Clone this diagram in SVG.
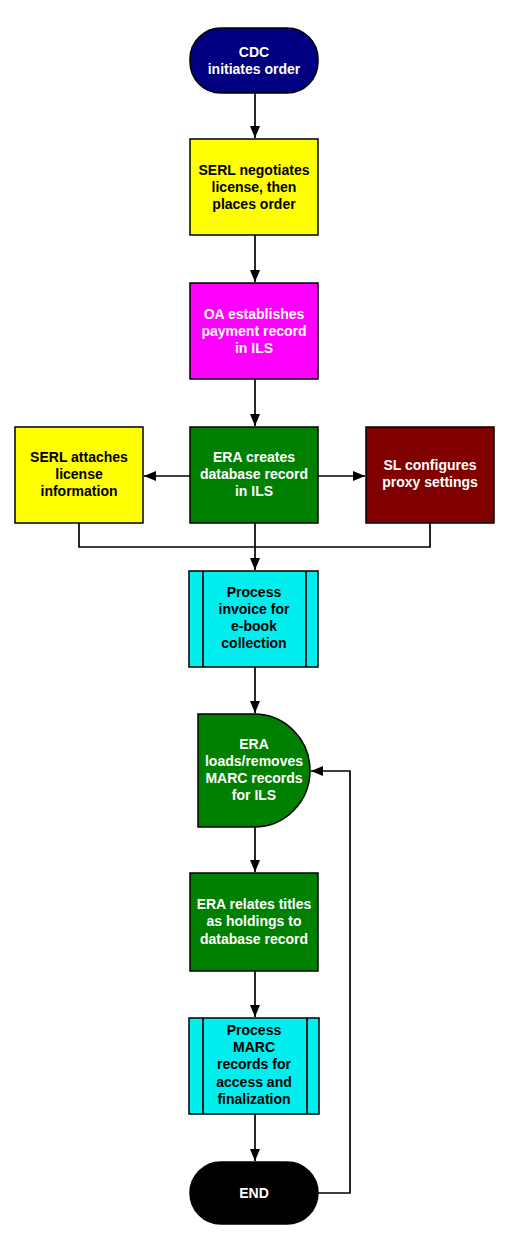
<svg xmlns="http://www.w3.org/2000/svg" width="509" height="1250" viewBox="0 0 509 1250">
<style>
.n{stroke:#000;stroke-width:1.5}
.t{font-family:"Liberation Sans",Arial,sans-serif;font-weight:bold;font-size:14px;text-anchor:middle}
.w{fill:#fff}
.k{fill:#000}
.c{fill:none;stroke:#000;stroke-width:1.7}
</style>
<defs>
<marker id="a" viewBox="0 0 12 10" refX="12" refY="5" markerWidth="12" markerHeight="10" markerUnits="userSpaceOnUse" orient="auto">
<path d="M0,0L12,5L0,10z" fill="#000"/>
</marker>
</defs>
<rect width="509" height="1250" fill="#fff"/>
<g id="connectors">
<path class="c" d="M255,93V138" marker-end="url(#a)"/>
<path class="c" d="M255,235V282" marker-end="url(#a)"/>
<path class="c" d="M255,379V426" marker-end="url(#a)"/>
<path class="c" d="M190,476H144" marker-end="url(#a)"/>
<path class="c" d="M318,476H365" marker-end="url(#a)"/>
<path class="c" d="M79,523V547H430V523"/>
<path class="c" d="M255,523V570" marker-end="url(#a)"/>
<path class="c" d="M255,667V713" marker-end="url(#a)"/>
<path class="c" d="M255,827V872" marker-end="url(#a)"/>
<path class="c" d="M255,971V1017" marker-end="url(#a)"/>
<path class="c" d="M255,1114V1161" marker-end="url(#a)"/>
<path class="c" d="M318,1193H350V771H311" marker-end="url(#a)"/>
</g>
<g id="cdc">
<rect class="n" x="190" y="28" width="128" height="65" rx="31" fill="#000080"/>
<text class="t w" x="254" y="57">CDC</text>
<text class="t w" x="254" y="74">initiates order</text>
</g>
<g id="serl-negotiates">
<rect class="n" x="190" y="139" width="128" height="96" fill="#ffff00"/>
<text class="t k" x="254" y="175">SERL negotiates</text>
<text class="t k" x="254" y="192">license, then</text>
<text class="t k" x="254" y="209">places order</text>
</g>
<g id="oa">
<rect class="n" x="190" y="283" width="128" height="96" fill="#ff00ff"/>
<text class="t w" x="254" y="319">OA establishes</text>
<text class="t w" x="254" y="336">payment record</text>
<text class="t w" x="254" y="353">in ILS</text>
</g>
<g id="era-creates">
<rect class="n" x="190" y="427" width="128" height="96" fill="#008000"/>
<text class="t w" x="254" y="462">ERA creates</text>
<text class="t w" x="254" y="479">database record</text>
<text class="t w" x="254" y="496">in ILS</text>
</g>
<g id="serl-attaches">
<rect class="n" x="15" y="427" width="128" height="96" fill="#ffff00"/>
<text class="t k" x="79" y="462">SERL attaches</text>
<text class="t k" x="79" y="479">license</text>
<text class="t k" x="79" y="496">information</text>
</g>
<g id="sl">
<rect class="n" x="366" y="427" width="128" height="96" fill="#800000"/>
<text class="t w" x="430" y="470">SL configures</text>
<text class="t w" x="430" y="487">proxy settings</text>
</g>
<g id="invoice">
<rect class="n" x="189" y="571" width="129" height="96" fill="#00eeee"/>
<path class="c" d="M203,571V667M306,571V667"/>
<text class="t k" x="254" y="597">Process</text>
<text class="t k" x="254" y="614">invoice for</text>
<text class="t k" x="254" y="631">e-book</text>
<text class="t k" x="254" y="648">collection</text>
</g>
<g id="era-loads">
<path class="n" d="M198,714H254A56,56.5 0 0 1 254,827H198Z" fill="#008000"/>
<text class="t w" x="254" y="749">ERA</text>
<text class="t w" x="254" y="766">loads/removes</text>
<text class="t w" x="254" y="783">MARC records</text>
<text class="t w" x="254" y="800">for ILS</text>
</g>
<g id="era-relates">
<rect class="n" x="190" y="873" width="128" height="98" fill="#008000"/>
<text class="t w" x="254" y="909">ERA relates titles</text>
<text class="t w" x="254" y="926">as holdings to</text>
<text class="t w" x="254" y="944">database record</text>
</g>
<g id="marc">
<rect class="n" x="189" y="1018" width="130" height="96" fill="#00eeee"/>
<path class="c" d="M203,1018V1114M307,1018V1114"/>
<text class="t k" x="254" y="1035">Process</text>
<text class="t k" x="254" y="1052">MARC</text>
<text class="t k" x="254" y="1069">records for</text>
<text class="t k" x="254" y="1087">access and</text>
<text class="t k" x="254" y="1104">finalization</text>
</g>
<g id="end">
<rect class="n" x="190" y="1162" width="128" height="62" rx="31" fill="#000"/>
<text class="t w" x="254" y="1198">END</text>
</g>
</svg>
